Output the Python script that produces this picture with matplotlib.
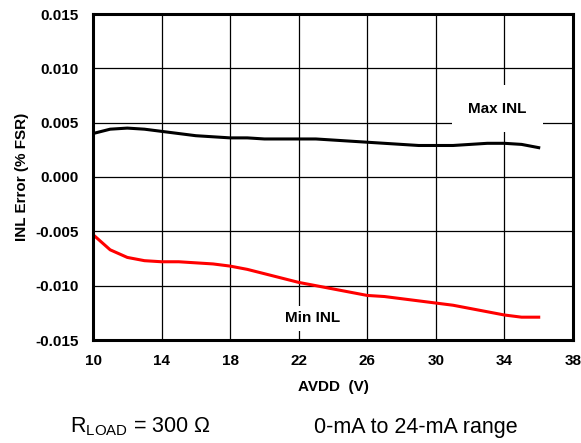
import matplotlib.pyplot as plt

plt.rcParams['font.family'] = ['Liberation Sans', 'DejaVu Sans']

# --- DATI ---
avdd = [10, 11, 12, 13, 14, 15, 16, 17, 18, 19, 20, 21, 22, 23, 24,
        25, 26, 27, 28, 29, 30, 31, 32, 33, 34, 35, 36]
max_inl = [0.0040, 0.0044, 0.0045, 0.0044, 0.0042, 0.0040, 0.0038, 0.0037, 0.0036,
           0.0036, 0.0035, 0.0035, 0.0035, 0.0035, 0.0034, 0.0033, 0.0032, 0.0031,
           0.0030, 0.0029, 0.0029, 0.0029, 0.0030, 0.0031, 0.0031, 0.0030, 0.0027]
min_inl = [-0.0053, -0.0067, -0.0074, -0.0077, -0.0078, -0.0078, -0.0079, -0.0080,
           -0.0082, -0.0085, -0.0089, -0.0093, -0.0097, -0.0100, -0.0103, -0.0106,
           -0.0109, -0.0110, -0.0112, -0.0114, -0.0116, -0.0118, -0.0121, -0.0124,
           -0.0127, -0.0129, -0.0129]
x_ticks = [10, 14, 18, 22, 26, 30, 34, 38]
y_ticks = [-0.015, -0.010, -0.005, 0.000, 0.005, 0.010, 0.015]

fig = plt.figure(figsize=(5.81, 4.43), dpi=100)
ax = fig.add_axes([93 / 581, 1 - 340 / 443, 480 / 581, 326 / 443])

ax.plot(avdd, max_inl, color='black', lw=2.2)
ax.plot(avdd, min_inl, color='red', lw=2.2)

ax.set_xlim(10, 38)
ax.set_ylim(-0.015, 0.015)
ax.set_xticks(x_ticks)
ax.set_yticks(y_ticks)
ax.set_yticklabels([f'{v:.3f}' for v in y_ticks])
ax.grid(True, color='black', lw=0.9)
ax.tick_params(axis='y', length=0, pad=10, labelsize=11)
ax.tick_params(axis='x', length=0, pad=10, labelsize=11)
for lab in ax.get_xticklabels() + ax.get_yticklabels():
    lab.set_fontweight('bold')
for s in ax.spines.values():
    s.set_linewidth(2.2)

ax.set_xlabel('AVDD  (V)', fontsize=11, fontweight='bold', labelpad=9)
ax.set_ylabel('INL Error (% FSR)', fontsize=11, fontweight='bold', labelpad=5)

ax.text(33.6, 0.0063, 'Max INL', fontsize=11, fontweight='bold', ha='center', va='center',
        bbox=dict(facecolor='white', edgecolor='none', pad=12))
ax.text(22.8, -0.0130, 'Min INL', fontsize=11, fontweight='bold', ha='center', va='center',
        bbox=dict(facecolor='white', edgecolor='none', pad=4))

fig.text(140 / 581, 1 - 427 / 443, r'R$_{\mathregular{LOAD}}$ = 300 Ω', fontsize=15.5, ha='center', va='center')
fig.text(416 / 581, 1 - 427 / 443, '0-mA to 24-mA range', fontsize=15.5, ha='center', va='center')

fig.savefig('out.png', dpi=100)
